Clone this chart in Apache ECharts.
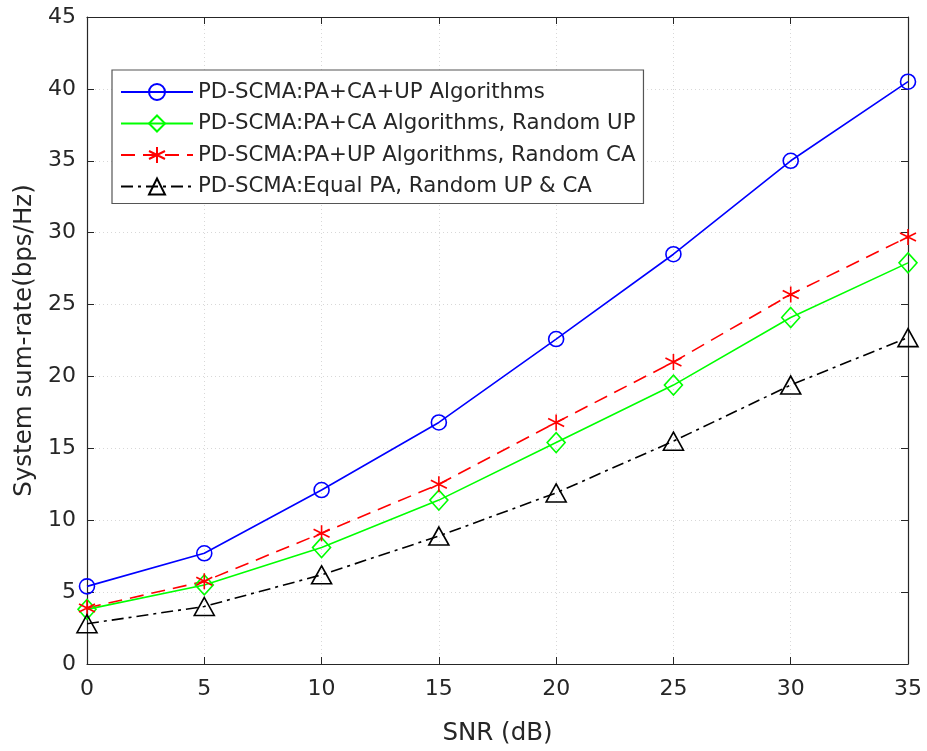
<!DOCTYPE html>
<html><head><meta charset="utf-8">
<script src="https://cdn.jsdelivr.net/npm/echarts@6/dist/echarts.min.js"></script>
<style>html,body{margin:0;padding:0;background:#fff}#c{width:927px;height:751px}</style>
</head><body><div id="c"></div>
<script>
const snr = [0, 5, 10, 15, 20, 25, 30, 35];
const names = [
  'PD-SCMA:PA+CA+UP Algorithms',
  'PD-SCMA:PA+CA Algorithms, Random UP',
  'PD-SCMA:PA+UP Algorithms, Random CA',
  'PD-SCMA:Equal PA, Random UP & CA'
];
const full   = [5.4, 7.7, 12.1, 16.8, 22.6, 28.5, 35.0, 40.5];
const randUP = [3.8, 5.5, 8.1, 11.4, 15.4, 19.4, 24.1, 27.9];
const randCA = [3.9, 5.75, 9.1, 12.5, 16.8, 21.0, 25.7, 29.7];
const equal  = [2.8, 4.0, 6.2, 8.9, 11.9, 15.5, 19.4, 22.7];
const yTicks = [0, 5, 10, 15, 20, 25, 30, 35, 40, 45];

const pair = arr => snr.map((x, i) => [x, arr[i]]);
const font = 'DejaVu Sans, Liberation Sans, Arial, sans-serif';
const chart = echarts.init(document.getElementById('c'), null, {renderer: 'canvas'});
const axisBase = {
  axisLine: {show: true, onZero: false, lineStyle: {color: '#262626', width: 1.2}},
  axisTick: {show: true, inside: true, length: 7, lineStyle: {color: '#262626'}},
};
function mk(name, data, color, symbol, size, lineType) {
  return {
    name, type: 'line', data: pair(data), symbol, symbolSize: size,
    showAllSymbol: true,
    lineStyle: {color, width: 1.6, type: lineType},
    itemStyle: {color: 'rgba(0,0,0,0)', borderColor: color, borderWidth: 1.6},
    emphasis: {disabled: true}, z: 3
  };
}
chart.setOption({
  animation: false,
  backgroundColor: '#fff',
  grid: {left: 87, top: 17, right: 19, bottom: 85, show: false},
  legend: {
    orient: 'vertical', left: 112, top: 70,
    backgroundColor: '#fff', borderColor: '#555', borderWidth: 1.2,
    padding: [11, 8, 6, 8], itemGap: 9.5, itemWidth: 72, itemHeight: 20,
    textStyle: {fontFamily: font, fontSize: 21.3, lineHeight: 22, color: '#262626'},
    data: names
  },
  xAxis: [
    Object.assign({
      type: 'value', min: 0, max: 35, interval: 5, position: 'bottom',
      name: 'SNR (dB)', nameLocation: 'middle', nameGap: 57,
      nameTextStyle: {fontFamily: font, fontSize: 24.5, color: '#262626'},
      axisLabel: {fontFamily: font, fontSize: 22, color: '#262626', margin: 14},
      splitLine: {show: true, lineStyle: {color: '#d8d8d8', type: [1, 3], width: 1}}
    }, axisBase),
    Object.assign({
      type: 'value', min: 0, max: 35, interval: 5, position: 'top',
      axisLabel: {show: false}, splitLine: {show: false}
    }, axisBase)
  ],
  yAxis: [
    Object.assign({
      type: 'value', min: 0, max: 45, interval: 5, position: 'left',
      name: 'System sum-rate(bps/Hz)', nameLocation: 'middle', nameGap: 50,
      nameTextStyle: {fontFamily: font, fontSize: 24.5, color: '#262626'},
      axisLabel: {fontFamily: font, fontSize: 22, color: '#262626', margin: 11,
        formatter: v => yTicks.includes(v) ? String(v) : ''},
      splitLine: {show: true, lineStyle: {color: '#d8d8d8', type: [1, 3], width: 1}}
    }, axisBase),
    Object.assign({
      type: 'value', min: 0, max: 45, interval: 5, position: 'right',
      axisLabel: {show: false}, splitLine: {show: false}
    }, axisBase)
  ],
  series: [
    mk(names[0], full, '#0000ff', 'circle', 15, 'solid'),
    mk(names[1], randUP, '#00ff00', 'path://M0,-1L1,0L0,1L-1,0Z', [18, 20], 'solid'),
    mk(names[2], randCA, '#ff0000', 'path://M0,-1L0,1M-0.87,-0.5L0.87,0.5M-0.87,0.5L0.87,-0.5', [16, 16], [14, 8]),
    mk(names[3], equal, '#000000', 'path://M0,-1L1,0.75L-1,0.75Z', [20, 18], [12, 5, 3, 5])
  ]
});
</script></body></html>
